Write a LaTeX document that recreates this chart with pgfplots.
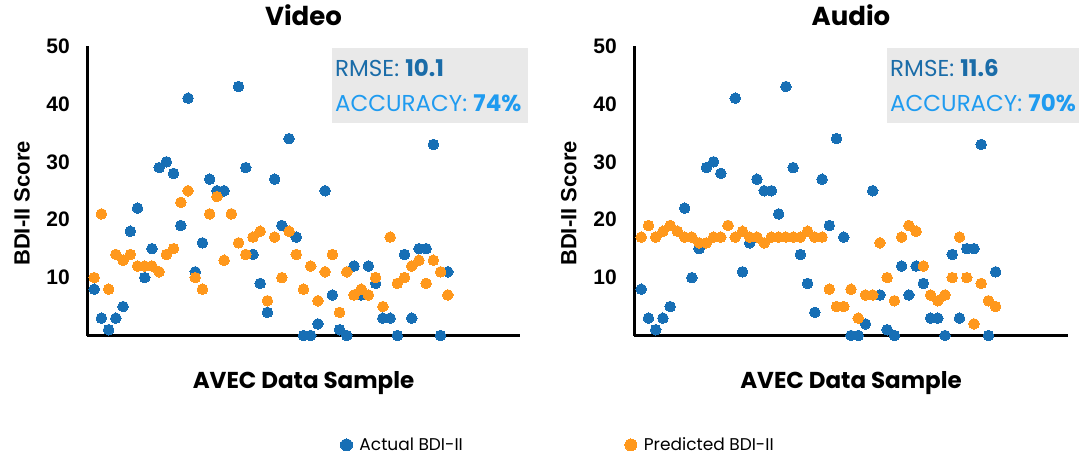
\documentclass[border=0pt]{standalone}
\usepackage{pgfplots}
\usepackage{pgfplotstable}
\pgfplotsset{compat=1.18}
\usepackage{fontspec}
\setmainfont{Poppins}
\newfontfamily\arial{Liberation Sans}
\definecolor{cblue}{RGB}{23,111,181}
\definecolor{corange}{RGB}{255,152,28}
\definecolor{rmseblue}{RGB}{26,108,168}
\definecolor{accblue}{RGB}{31,155,240}
\definecolor{boxgray}{RGB}{233,233,233}

\pgfplotstableread{
idx act vid aud
0 8 10 17
1 3 21 19
2 1 8 17
3 3 14 18
4 5 13 19
5 18 14 18
6 22 12 17
7 10 12 17
8 15 12 16
9 29 11 16
10 30 14 17
11 28 15 17
12 19 23 19
13 41 25 17
14 11 10 18
15 16 8 17
16 27 21 17
17 25 24 16
18 25 13 17
19 21 21 17
20 43 16 17
21 29 14 17
22 14 17 17
23 9 18 18
24 4 6 17
25 27 17 17
26 19 10 8
27 34 18 5
28 17 14 5
29 0 8 8
30 0 12 3
31 2 6 7
32 25 11 7
33 7 14 16
34 1 4 10
35 0 11 6
36 12 7 17
37 7 8 19
38 12 7 18
39 9 10 12
40 3 5 7
41 3 17 6
42 0 9 7
43 14 10 10
44 3 12 17
45 15 13 10
46 15 9 2
47 33 13 9
48 0 11 6
49 11 7 5
}\datatab

\pgfplotsset{
  common/.style={
    scale only axis,
    anchor=south west,
    height=289.5pt,
    xmin=-1, xmax=59, ymin=0, ymax=50,
    axis x line=bottom, axis y line=left,
    axis line style={line width=3pt, -, black},
    xtick=\empty,
    ytick={10,20,30,40,50},
    major tick length=0pt,
    /pgf/number format/assume math mode=true,
    yticklabel style={font=\arial\bfseries\fontsize{21}{24}\selectfont, anchor=east, inner sep=0pt, xshift=-17pt},
    clip=false,
    title style={font=\bfseries\fontsize{26}{30}\selectfont, at={(axis description cs:0.5,1)}, anchor=base, yshift=14.5pt},
    xlabel={AVEC Data Sample},
    xlabel style={font=\bfseries\fontsize{23}{26}\selectfont, at={(axis description cs:0.5,0)}, anchor=base, yshift=-52.5pt},
    ylabel={BDI-II Score},
    ylabel style={font=\arial\bfseries\fontsize{22}{26}\selectfont, at={(axis description cs:-0.150,0.456)}, anchor=center, rotate=0},
  },
  pblue/.style={color=cblue, only marks, mark=*, mark size=5.3pt, mark options={draw=cblue, fill=cblue, line width=0pt}},
  porange/.style={color=corange, only marks, mark=*, mark size=5.3pt, mark options={draw=corange, fill=corange, line width=0pt}},
}

\begin{document}
\begin{tikzpicture}
\useasboundingbox (0,0) rectangle (1086pt,455pt);
\begin{axis}[common, at={(87pt,119.5pt)}, width=433pt, title={Video},
  legend image post style={mark size=6pt},
  legend style={draw=none, fill=none, legend columns=2, at={(axis description cs:0.578,-0.378)}, anchor=west,
    font=\fontsize{17}{20}\selectfont,
    /tikz/column 2/.style={column sep=160pt}}]
\addplot[pblue] table[x=idx, y=act] {\datatab};
\addlegendentry{\hspace*{5pt}Actual BDI-II}
\addplot[porange] table[x=idx, y=vid] {\datatab};
\addlegendentry{\hspace*{5pt}Predicted BDI-II}
\end{axis}
\begin{axis}[common, at={(634pt,119.5pt)}, width=434pt, title={Audio}]
\addplot[pblue] table[x=idx, y=act] {\datatab};
\addplot[porange] table[x=idx, y=aud] {\datatab};
\end{axis}
\fill[boxgray] (332pt,332pt) rectangle (528pt,407pt);
\node[anchor=base west, inner sep=0pt, font=\fontsize{23}{26}\selectfont] at (335pt,378pt) {\textcolor{rmseblue}{RMSE: \textbf{10.1}}};
\node[anchor=base west, inner sep=0pt, font=\fontsize{23}{26}\selectfont] at (335pt,343pt) {\textcolor{accblue}{ACCURACY: \textbf{74\%}}};
\fill[boxgray] (887pt,332pt) rectangle (1079pt,407pt);
\node[anchor=base west, inner sep=0pt, font=\fontsize{23}{26}\selectfont] at (890pt,378pt) {\textcolor{rmseblue}{RMSE: \textbf{11.6}}};
\node[anchor=base west, inner sep=0pt, font=\fontsize{23}{26}\selectfont] at (890pt,343pt) {\textcolor{accblue}{ACCURACY: \textbf{70\%}}};
\end{tikzpicture}
\end{document}
